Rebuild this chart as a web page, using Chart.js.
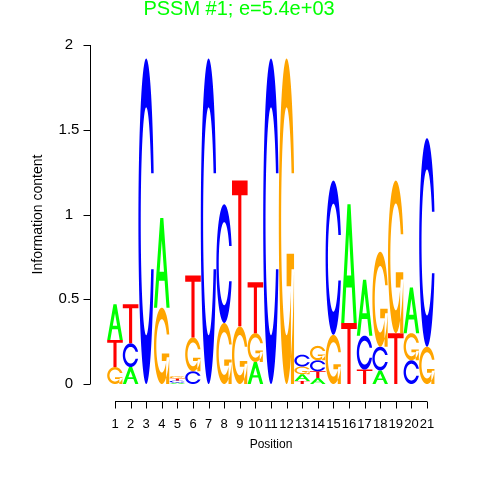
<!DOCTYPE html>
<html lang="en">
<head>
    <meta charset="UTF-8">
    <title>PSSM #1</title>
    <script src="https://cdn.jsdelivr.net/npm/chart.js"></script>
    <style>
        body { margin: 0; background: #fff; }
    </style>
</head>
<body>
    <canvas id="logo" width="480" height="480"></canvas>

    <script>
        // positions of the motif
        const positions = ['1', '2', '3', '4', '5', '6', '7', '8', '9', '10', '11',
                           '12', '13', '14', '15', '16', '17', '18', '19', '20', '21'];
        // information content (bits) carried by each base at each position
        const heightA = [0.21, 0.10, 0, 0.53, 0.008, 0, 0, 0, 0, 0.13, 0,
                         0, 0.04, 0.035, 0, 0.70, 0.33, 0.08, 0, 0.27, 0];
        const heightC = [0, 0.14, 1.92, 0, 0.012, 0.075, 1.92, 0.70, 0, 0, 1.92,
                         0, 0.07, 0.065, 0.91, 0, 0.20, 0.14, 0, 0.14, 1.23];
        const heightG = [0.10, 0, 0, 0.45, 0.014, 0.20, 0, 0.36, 0.34, 0.17, 0,
                         1.92, 0.045, 0.085, 0.29, 0, 0, 0.56, 0.90, 0.16, 0.22];
        const heightT = [0.16, 0.23, 0, 0, 0.013, 0.365, 0, 0, 0.86, 0.30, 0,
                         0, 0.018, 0.04, 0, 0.36, 0.085, 0, 0.30, 0, 0];
        const yTickLabels = ['0', '0.5', '1', '1.5', '2'];

        const baseColors = { A: '#00ff00', C: '#0000ff', G: '#ffa500', T: '#ff0000' };

        // letter outlines in a unit box (x right, y up), like seqLogo's polygons
        function seq(a, b, n) {
            const out = [];
            for (let i = 0; i < n; i++) out.push(a + (b - a) * i / (n - 1));
            return out;
        }
        function ringShape() {
            const a1 = seq(0.3 + Math.PI / 2, Math.PI, 100);
            const a2 = seq(Math.PI, 1.5 * Math.PI, 100);
            const xl1 = a1.map(a => 0.5 + 0.5 * Math.sin(a)), yl1 = a1.map(a => 0.5 + 0.5 * Math.cos(a));
            const xl2 = a2.map(a => 0.5 + 0.5 * Math.sin(a)), yl2 = a2.map(a => 0.5 + 0.5 * Math.cos(a));
            const xl = xl1.concat(xl2), yl = yl1.concat(yl2);
            let x = xl.concat(xl.slice().reverse());
            let y = yl.concat(yl.slice().reverse().map(v => 1 - v));
            const maxY = Math.max(...yl1);
            let xi1 = [], yi1 = [];
            a1.forEach(a => {
                const yy = 0.5 + 0.35 * Math.cos(a);
                if (yy <= maxY) { xi1.push(0.5 + 0.35 * Math.sin(a)); yi1.push(yy); }
            });
            yi1[0] = maxY;
            const xi2 = a2.map(a => 0.5 + 0.35 * Math.sin(a)), yi2 = a2.map(a => 0.5 + 0.35 * Math.cos(a));
            const xi = xi1.concat(xi2), yi = yi1.concat(yi2);
            const x1 = xi.concat(xi.slice().reverse());
            const y1 = yi.concat(yi.slice().reverse().map(v => 1 - v));
            x = x.concat(x1.slice().reverse());
            y = y.concat(y1.slice().reverse());
            return { x, y, r1: Math.max(...xl1) };
        }
        const ring = ringShape();
        const glyphs = {
            A: [
                { x: [0, 0.4, 0.6, 1, 0.8, 0.68, 0.32, 0.2, 0], y: [0, 1, 1, 0, 0, 0.3, 0.3, 0, 0] },
                { x: [0.36, 0.5, 0.64, 0.36], y: [0.4, 0.75, 0.4, 0.4] }
            ],
            C: [{ x: ring.x, y: ring.y }],
            G: [
                { x: ring.x, y: ring.y },
                { x: [ring.r1, 0.5, 0.5, ring.r1 - 0.2, ring.r1 - 0.2, ring.r1, ring.r1],
                  y: [0.4, 0.4, 0.3, 0.3, 0, 0, 0.4] }
            ],
            T: [{ x: [0, 1, 1, 0.6, 0.6, 0.4, 0.4, 0], y: [1, 1, 0.9, 0.9, 0, 0, 0.9, 0.9] }]
        };

        // stack layers: at each position the bases are ordered small -> large from the bottom
        const layers = [[], [], [], []];
        positions.forEach((p, i) => {
            const entries = [['A', heightA[i]], ['C', heightC[i]], ['G', heightG[i]], ['T', heightT[i]]];
            entries.sort((a, b) => a[1] - b[1]);
            entries.forEach((e, r) => layers[r].push(e));
        });
        const datasets = layers.map((layer, r) => ({
            label: 'layer ' + (r + 1),
            data: layer.map(e => e[1]),
            letters: layer.map(e => e[0]),
            backgroundColor: 'rgba(0,0,0,0)',
            borderWidth: 0,
            stack: 'logo',
            barPercentage: 1,
            categoryPercentage: 1
        }));

        const letterPlugin = {
            id: 'letters',
            afterDatasetsDraw(chart) {
                const ctx = chart.ctx;
                chart.data.datasets.forEach((ds, d) => {
                    const meta = chart.getDatasetMeta(d);
                    meta.data.forEach((el, i) => {
                        const p = el.getProps(['x', 'y', 'base', 'width'], true);
                        const top = Math.min(p.y, p.base), bottom = Math.max(p.y, p.base);
                        const ht = bottom - top;
                        if (ht < 0.2) return;
                        const left = p.x - p.width / 2, wt = p.width;
                        const letter = ds.letters[i];
                        ctx.save();
                        ctx.fillStyle = baseColors[letter];
                        ctx.beginPath();
                        glyphs[letter].forEach(poly => {
                            poly.x.forEach((xx, k) => {
                                const px = left + wt * xx, py = bottom - ht * poly.y[k];
                                if (k === 0) ctx.moveTo(px, py); else ctx.lineTo(px, py);
                            });
                            ctx.closePath();
                        });
                        ctx.fill('evenodd');
                        ctx.restore();
                    });
                });
            }
        };

        // R style detached axes, placed with the chart's own scales
        const axesPlugin = {
            id: 'rAxes',
            afterDraw(chart) {
                const ctx = chart.ctx;
                const xs = chart.scales.x, ys = chart.scales.y;
                const font = '"Liberation Sans", Arial, sans-serif';
                ctx.save();
                ctx.strokeStyle = '#000';
                ctx.lineWidth = 1;
                ctx.fillStyle = '#000';

                // y axis
                const yAxisX = 90.5;
                ctx.beginPath();
                ctx.moveTo(yAxisX, ys.getPixelForValue(0));
                ctx.lineTo(yAxisX, ys.getPixelForValue(2));
                yTickLabels.forEach(t => {
                    const py = Math.round(ys.getPixelForValue(parseFloat(t))) + 0.5;
                    ctx.moveTo(yAxisX, py);
                    ctx.lineTo(yAxisX - 7, py);
                });
                ctx.stroke();
                ctx.font = '15px ' + font;
                ctx.textAlign = 'center';
                ctx.textBaseline = 'middle';
                yTickLabels.forEach(t => {
                    ctx.fillText(t, 69, ys.getPixelForValue(parseFloat(t)));
                });

                // x axis
                const xAxisY = 401.5;
                ctx.beginPath();
                ctx.moveTo(xs.getPixelForValue(0), xAxisY);
                ctx.lineTo(xs.getPixelForValue(positions.length - 1), xAxisY);
                positions.forEach((p, i) => {
                    const px = Math.round(xs.getPixelForValue(i)) + 0.5;
                    ctx.moveTo(px, xAxisY);
                    ctx.lineTo(px, xAxisY + 7);
                });
                ctx.stroke();
                ctx.font = '13px ' + font;
                positions.forEach((p, i) => {
                    ctx.fillText(p, xs.getPixelForValue(i), 424);
                });

                // axis titles
                ctx.font = '12px ' + font;
                ctx.fillText('Position', (xs.getPixelForValue(0) + xs.getPixelForValue(positions.length - 1)) / 2, 445);
                ctx.save();
                ctx.translate(38, (ys.getPixelForValue(0) + ys.getPixelForValue(2)) / 2);
                ctx.rotate(-Math.PI / 2);
                ctx.font = '14px ' + font;
                ctx.fillText('Information content', 0, 0);
                ctx.restore();

                // main title
                ctx.fillStyle = '#00ff00';
                ctx.font = '20px ' + font;
                ctx.fillText('PSSM #1; e=5.4e+03', 239, 9);
                ctx.restore();
            }
        };

        new Chart(document.getElementById('logo'), {
            type: 'bar',
            data: { labels: positions, datasets: datasets },
            options: {
                responsive: false,
                animation: false,
                events: [],
                layout: { padding: { left: 107.2, right: 45.2, top: 45, bottom: 96 } },
                plugins: { legend: { display: false }, tooltip: { enabled: false }, title: { display: false } },
                scales: {
                    x: { display: false, stacked: true },
                    y: { display: false, stacked: true, min: 0, max: 2 }
                }
            },
            plugins: [letterPlugin, axesPlugin]
        });
    </script>
</body>
</html>
